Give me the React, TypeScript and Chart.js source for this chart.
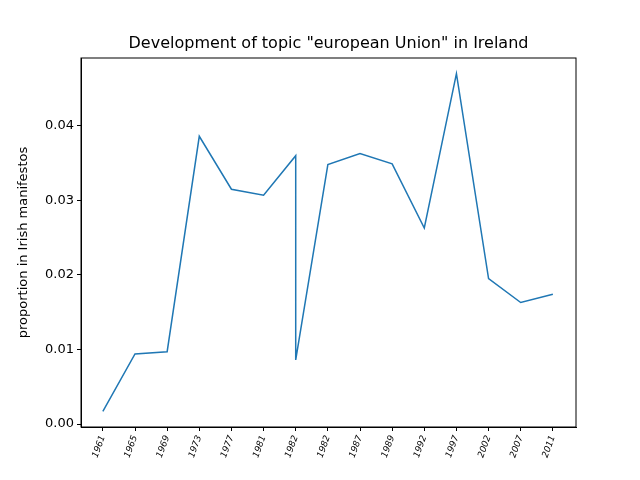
import React, { useEffect, useRef } from "react";
import { Chart, registerables } from "chart.js";
Chart.register(...registerables);

const tickLabels = ["1961","1965","1969","1973","1977","1981","1982","1982","1987","1989","1992","1997","2002","2007","2011"];
const xIndex = [0,1,2,3,4,5,6,6,7,8,9,10,11,12,13,14];
const values = [0.0017,0.0094,0.0097,0.0386,0.0315,0.0307,0.036,0.0086,0.0348,0.0363,0.0349,0.0263,0.047,0.0195,0.0163,0.0174];
const titleText = 'Development of topic "european Union" in Ireland';

const framePlugin = {
  id: "frame",
  afterDraw(chart: any) {
    const { ctx, chartArea: a } = chart;
    ctx.save();
    ctx.strokeStyle = "#000";
    ctx.lineWidth = 1;
    ctx.strokeRect(a.left, a.top, a.right - a.left, a.bottom - a.top);
    ctx.fillStyle = "#000";
    ctx.font = "16px 'DejaVu Sans'";
    ctx.textAlign = "center";
    ctx.textBaseline = "bottom";
    ctx.fillText(titleText, (a.left + a.right) / 2, a.top - 6);
    ctx.restore();
  },
};

export default function App() {
  const ref = useRef<HTMLCanvasElement>(null);
  useEffect(() => {
    document.body.style.margin = "0";
    const chart = new Chart(ref.current!, {
      type: "line",
      data: {
        datasets: [{
          data: xIndex.map((x, i) => ({ x, y: values[i] })),
          borderColor: "#1f77b4",
          borderWidth: 1.5,
          pointRadius: 0,
          tension: 0,
          fill: false,
        }],
      },
      plugins: [framePlugin],
      options: {
        animation: false,
        responsive: false,
        layout: { padding: { left: 16, right: 64, top: 58, bottom: 0 } },
        plugins: {
          legend: { display: false },
          tooltip: { enabled: false },
          title: { display: false },
        },
        scales: {
          x: {
            type: "linear",
            min: -0.68,
            max: 14.72,
            afterBuildTicks: (axis: any) => {
              axis.ticks = tickLabels.map((_, i) => ({ value: i }));
            },
            afterFit: (axis: any) => { axis.height = 53; },
            grid: { drawOnChartArea: false, color: "#000", tickLength: 4 },
            border: { color: "#000" },
            ticks: {
              color: "#000",
              autoSkip: false,
              maxRotation: 70,
              minRotation: 70,
              font: { family: "DejaVu Sans", size: 9, style: "italic" },
              callback: (v: any) => tickLabels[v as number] ?? "",
            },
          },
          y: {
            min: -0.0004,
            max: 0.0491,
            afterBuildTicks: (axis: any) => {
              axis.ticks = [0, 0.01, 0.02, 0.03, 0.04].map((value) => ({ value }));
            },
            afterFit: (axis: any) => { axis.width = 65; },
            grid: { drawOnChartArea: false, color: "#000", tickLength: 4 },
            border: { color: "#000" },
            ticks: {
              color: "#000",
              font: { family: "DejaVu Sans", size: 13 },
              callback: (v: any) => Number(v).toFixed(2),
            },
            title: {
              display: true,
              text: "proportion in Irish manifestos",
              color: "#000",
              font: { family: "DejaVu Sans", size: 13 },
              padding: 0,
            },
          },
        },
      },
    });
    return () => chart.destroy();
  }, []);
  return <canvas ref={ref} width={640} height={480} />;
}
